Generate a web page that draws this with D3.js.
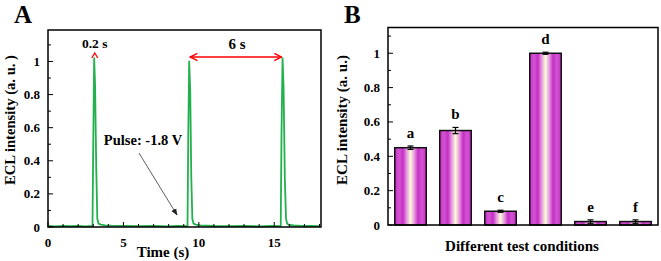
<!DOCTYPE html>
<html>
<head>
<meta charset="utf-8">
<script src="https://cdn.jsdelivr.net/npm/d3@7"></script>
<style>
    body { margin: 0; background: #fff; }
    svg { display: block; }
    text { font-family: "Liberation Serif", "Times New Roman", serif; font-weight: bold; fill: #000; }
</style>
</head>
<body>
<svg width="661" height="261"></svg>
<script>
// Panel A: ECL trace under pulsed potential
var timeA = [0, 0.5, 1, 1.5, 2, 2.5, 2.95, 3.0, 3.06, 3.12, 3.2, 3.27, 3.35, 3.5, 3.8, 4.2, 5, 6, 7, 8, 8.6, 9.25, 9.3, 9.36, 9.43, 9.5, 9.57, 9.65, 9.8, 10.1, 10.5, 11, 12, 13, 14, 14.8, 15.43, 15.48, 15.55, 15.62, 15.7, 15.78, 15.86, 16, 16.3, 16.8, 17.5, 18];
var eclA  = [0.006, 0.004, 0.007, 0.005, 0.006, 0.004, 0.006, 0.5, 1.02, 0.86, 0.35, 0.05, 0.02, 0.014, 0.01, 0.008, 0.007, 0.005, 0.006, 0.004, 0.006, 0.005, 0.55, 1.0, 0.82, 0.3, 0.05, 0.02, 0.014, 0.01, 0.008, 0.006, 0.005, 0.007, 0.004, 0.006, 0.005, 0.55, 1.02, 0.84, 0.3, 0.05, 0.02, 0.012, 0.009, 0.007, 0.006, 0.005];
var xTicksA = [0, 5, 10, 15];
var yTicksA = [0, 0.2, 0.4, 0.6, 0.8, 1];

// Panel B: ECL intensity under different test conditions
var conditions = ["a", "b", "c", "d", "e", "f"];
var eclB = [0.45, 0.55, 0.08, 1.0, 0.02, 0.02];
var errB = [0.01, 0.018, 0.006, 0.006, 0.01, 0.01];
var yTicksB = [0, 0.2, 0.4, 0.6, 0.8, 1];

var svg = d3.select("svg");
var fmt = function(d) { return d === 0 ? "0" : d === 1 ? "1" : d3.format(".1f")(d); };

var defs = svg.append("defs");
defs.append("marker").attr("id", "redHead")
    .attr("viewBox", "0 0 10 10").attr("refX", 9).attr("refY", 5)
    .attr("markerWidth", 9).attr("markerHeight", 9).attr("markerUnits", "userSpaceOnUse")
    .attr("orient", "auto-start-reverse")
    .append("path").attr("d", "M1,1 L9,5 L1,9").attr("fill", "none").attr("stroke", "#ff0000").attr("stroke-width", 1.6);
defs.append("marker").attr("id", "blackHead")
    .attr("viewBox", "0 0 10 10").attr("refX", 9).attr("refY", 5)
    .attr("markerWidth", 7).attr("markerHeight", 7).attr("markerUnits", "userSpaceOnUse")
    .attr("orient", "auto")
    .append("path").attr("d", "M0,1 L10,5 L0,9 Z").attr("fill", "#222");

var grad = defs.append("linearGradient").attr("id", "barFill")
    .attr("x1", "0%").attr("x2", "100%").attr("y1", "0%").attr("y2", "0%");
[[0, "#c630c6"], [0.14, "#d354d3"], [0.26, "#c52ec5"], [0.38, "#e59be0"], [0.5, "#fffad8"],
 [0.62, "#e59be0"], [0.74, "#c52ec5"], [0.86, "#d354d3"], [1, "#c630c6"]].forEach(function(s) {
    grad.append("stop").attr("offset", s[0]).attr("stop-color", s[1]);
});

/**
 * Draws inward ticks (major + minor) along a vertical axis.
 */
function yTicksInward(g, y, x0, max, ticks) {
    d3.range(0, max + 1e-9, 0.1).forEach(function(v) {
        var major = ticks.some(function(t) { return Math.abs(t - v) < 1e-6; });
        g.append("line").attr("x1", x0).attr("x2", x0 + (major ? 5 : 3))
            .attr("y1", y(v)).attr("y2", y(v)).attr("stroke", "#000").attr("stroke-width", 1);
    });
    g.selectAll(".ylab").data(ticks).enter().append("text")
        .attr("x", x0 - 8).attr("y", function(d) { return y(d) + 4.5; })
        .attr("text-anchor", "end").style("font-size", "13px").text(fmt);
}

/**
 * Rotated y axis title, squeezed to the length seen in the figure.
 */
function yTitle(g, x, y, label) {
    g.append("text").attr("transform", "translate(" + x + "," + y + ") rotate(-90)").attr("text-anchor", "middle")
        .attr("textLength", 130).attr("lengthAdjust", "spacingAndGlyphs")
        .style("font-size", "14.5px").text(label);
}

function drawPanelA() {
    var x = d3.scaleLinear().domain([0, 18.1]).range([48, 321]);
    var y = d3.scaleLinear().domain([0, 1.19]).range([227, 30]);
    var g = svg.append("g");

    var line = d3.line().x(function(d) { return x(d[0]); }).y(function(d) { return y(d[1]); });
    g.append("path").datum(d3.zip(timeA, eclA))
        .attr("d", line).attr("fill", "none").attr("stroke", "#22b14c").attr("stroke-width", 1.8)
        .attr("stroke-linejoin", "round");

    // frame
    g.append("rect").attr("x", x(0)).attr("y", y(1.19)).attr("width", x(18.1) - x(0)).attr("height", y(0) - y(1.19))
        .attr("fill", "none").attr("stroke", "#000").attr("stroke-width", 1.5);

    yTicksInward(g, y, x(0), 1.19, yTicksA);

    d3.range(0, 19).forEach(function(v) {
        var major = v % 5 === 0;
        g.append("line").attr("x1", x(v)).attr("x2", x(v))
            .attr("y1", y(0)).attr("y2", y(0) - (major ? 5 : 3)).attr("stroke", "#000");
    });
    g.selectAll(".xlab").data(xTicksA).enter().append("text")
        .attr("x", function(d) { return x(d); }).attr("y", 247)
        .attr("text-anchor", "middle").style("font-size", "13px").text(function(d) { return d; });

    g.append("text").attr("x", 163).attr("y", 257).attr("text-anchor", "middle")
        .style("font-size", "15px").text("Time (s)");
    yTitle(g, 15, 120, "ECL intensity (a. u. )");
    g.append("text").attr("x", 14).attr("y", 23).style("font-size", "25px").text("A");

    // annotations
    g.append("text").attr("x", x(3.1)).attr("y", 48).attr("text-anchor", "middle")
        .style("font-size", "13.5px").text("0.2 s");
    g.append("path").attr("d", "M" + (x(3.1) - 3) + "," + 58 + " L" + x(3.1) + "," + 53 + " L" + (x(3.1) + 3) + "," + 58)
        .attr("fill", "none").attr("stroke", "#ff0000").attr("stroke-width", 1.3);
    g.append("line").attr("x1", x(9.36) + 1).attr("x2", x(15.55) - 1).attr("y1", 57).attr("y2", 57)
        .attr("stroke", "#ff0000").attr("stroke-width", 1.6)
        .attr("marker-start", "url(#redHead)").attr("marker-end", "url(#redHead)");
    g.append("text").attr("x", 237).attr("y", 49).attr("text-anchor", "middle")
        .style("font-size", "15px").text("6 s");
    g.append("text").attr("x", 143).attr("y", 145).attr("text-anchor", "middle")
        .style("font-size", "14.5px").text("Pulse: -1.8 V");
    g.append("line").attr("x1", 139).attr("y1", 153).attr("x2", 177).attr("y2", 215)
        .attr("stroke", "#333").attr("stroke-width", 0.8).attr("marker-end", "url(#blackHead)");
}

function drawPanelB() {
    var x = d3.scaleBand().domain(conditions).range([388, 658]).paddingInner(0.3).paddingOuter(0.15);
    var y = d3.scaleLinear().domain([0, 1.15]).range([225, 27.5]);
    var g = svg.append("g");

    g.selectAll(".bar").data(conditions).enter().append("rect")
        .attr("x", function(d) { return x(d); })
        .attr("y", function(d, i) { return y(eclB[i]); })
        .attr("width", x.bandwidth())
        .attr("height", function(d, i) { return y(0) - y(eclB[i]); })
        .attr("fill", "url(#barFill)").attr("stroke", "#111").attr("stroke-width", 1.5);

    conditions.forEach(function(d, i) {
        var cx = x(d) + x.bandwidth() / 2;
        var lo = y(eclB[i] - errB[i]), hi = y(eclB[i] + errB[i]);
        g.append("line").attr("x1", cx).attr("x2", cx).attr("y1", lo).attr("y2", hi).attr("stroke", "#000").attr("stroke-width", 1.2);
        [lo, hi].forEach(function(v) {
            g.append("line").attr("x1", cx - 3).attr("x2", cx + 3).attr("y1", v).attr("y2", v).attr("stroke", "#000").attr("stroke-width", 1.2);
        });
        g.append("text").attr("x", cx).attr("y", hi - 8).attr("text-anchor", "middle")
            .style("font-size", "15px").text(d);
    });

    g.append("rect").attr("x", 388).attr("y", y(1.15)).attr("width", 658 - 388).attr("height", y(0) - y(1.15))
        .attr("fill", "none").attr("stroke", "#000").attr("stroke-width", 1.5);
    yTicksInward(g, y, 388, 1.15, yTicksB);

    g.append("text").attr("x", 522).attr("y", 251).attr("text-anchor", "middle")
        .style("font-size", "15px").text("Different test conditions");
    yTitle(g, 347, 120, "ECL intensity (a. u.)");
    g.append("text").attr("x", 344).attr("y", 23).style("font-size", "25px").text("B");
}

drawPanelA();
drawPanelB();
</script>
</body>
</html>
